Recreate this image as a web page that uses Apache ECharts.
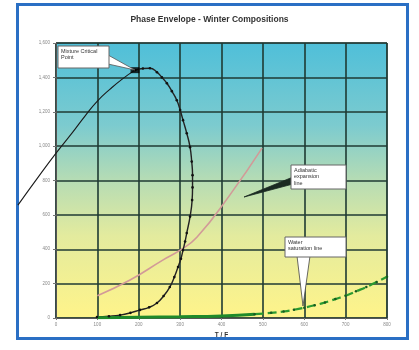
<!DOCTYPE html>
<html><head><meta charset="utf-8">
<script src="https://cdn.jsdelivr.net/npm/echarts@6/dist/echarts.min.js"></script>
<style>
html,body{margin:0;padding:0;background:#fff;}
#frame{position:absolute;left:16px;top:3px;width:393px;height:337px;border:3px solid #2a6fc4;box-sizing:border-box;}
#c{position:absolute;left:0;top:0;width:419px;height:350px;}
</style></head>
<body><div id="frame"></div><div id="c"></div>
<script>
var title = 'Phase Envelope - Winter Compositions';
var xName = 'T / F';
var xTicks = [0,100,200,300,400,500,600,700,800];
var yTicks = [0,200,400,600,800,1000,1200,1400,1600];
var bubbleLine = [[-92,657],[-40,830],[2,965],[40,1080],[70,1175],[100,1262],[130,1330],[160,1390],[191,1442]];
var dewLine = [[191,1442],[210,1452],[227,1453],[244,1430],[256,1400],[268,1366],[280,1320],[292,1267],[300,1210],[307,1151],[316,1075],[324,994],[328,910],[330,831],[330,760],[329,686],[324,590],[316,494],[312,445],[307,395],[302,345],[295,297],[286,238],[275,180],[260,128],[244,87],[225,62],[203,47],[180,30],[155,17],[128,10],[99,6]];
var critPoint = [[191,1442]];
var adiabatic = [[100,130],[179,221],[258,337],[300,395],[341,471],[420,715],[498,988]];
var waterSolid = [[100,2],[200,4],[300,7],[400,12],[480,22]];
var waterDashed = [[480,22],[520,30],[550,38],[575,48],[600,60],[625,74],[650,90],[675,110],[700,130],[725,155],[750,180],[775,210],[800,240]];
var labelCrit = ['Mixture Critical','Point'];
var labelAdiab = ['Adiabatic','expansion','line'];
var labelWater = ['Water','saturation line'];

var chart = echarts.init(document.getElementById('c'));
function box(x,y,w,h,lines){
  return [{type:'rect',shape:{x:x,y:y,width:w,height:h},style:{fill:'#fff',stroke:'#666',lineWidth:1},z:100},
   {type:'text',x:x+3,y:y+2,style:{text:lines.join('\n'),font:'5.5px sans-serif',fill:'#333',lineHeight:6.5},z:101}];
}
var unit = (419-32-56)/800*100;
var opt = {
  animation:false,
  title:{text:title,left:'center',top:10,textStyle:{fontSize:8.5,fontWeight:'bold',color:'#333',fontFamily:'Arial'}},
  grid:[{left:56,right:32,top:43,bottom:32,show:true,backgroundColor:{type:'linear',x:0,y:0,x2:0,y2:1,colorStops:[
    {offset:0,color:'#4fbfd9'},{offset:0.3,color:'#7ccbcf'},{offset:0.5,color:'#b6dcb4'},{offset:0.7,color:'#e3eb9e'},{offset:1,color:'#fff48a'}]},borderColor:'#333',borderWidth:1},
    {left:56-unit,right:32,top:43,bottom:32}],
  xAxis:[{type:'value',min:0,max:800,interval:100,name:xName,nameLocation:'middle',nameGap:10,
    nameTextStyle:{fontSize:6.5,fontWeight:'bold',color:'#333'},
    axisLine:{lineStyle:{color:'#555'}},axisTick:{show:true,length:2,lineStyle:{color:'#777'}},
    axisLabel:{fontSize:4.5,color:'#888',margin:4},
    splitLine:{lineStyle:{color:'#1f3a33',width:1.6}}},
    {type:'value',gridIndex:1,min:-100,max:800,show:false}],
  yAxis:[{type:'value',min:0,max:1600,interval:200,
    axisLine:{show:true,lineStyle:{color:'#555'}},axisTick:{show:true,length:3,lineStyle:{color:'#777'}},
    axisLabel:{fontSize:4.5,color:'#888',margin:6},
    splitLine:{lineStyle:{color:'#1f3a33',width:1.6}}},
    {type:'value',gridIndex:1,min:0,max:1600,show:false}],
  series:[
    {type:'line',data:adiabatic,smooth:true,showSymbol:false,clip:false,lineStyle:{color:'#d29a98',width:1.6}},
    {type:'line',xAxisIndex:1,yAxisIndex:1,data:bubbleLine,smooth:true,showSymbol:false,clip:false,lineStyle:{color:'#1a1a1a',width:1.1}},
    {type:'line',data:dewLine,smooth:true,symbol:'circle',symbolSize:2.6,clip:false,itemStyle:{color:'#111'},lineStyle:{color:'#222',width:1.4}},
    {type:'line',data:waterSolid,smooth:true,showSymbol:false,lineStyle:{color:'#1f8a2a',width:3}},
    {type:'line',data:waterDashed,smooth:true,symbol:'circle',symbolSize:2.5,itemStyle:{color:'#175a1f'},lineStyle:{color:'#2a9a30',width:2.2,type:'dashed'}},
    {type:'scatter',data:critPoint,symbol:'rect',symbolSize:[9,6],itemStyle:{color:'#000'},z:5}
  ],
  graphic:[].concat(
    [{type:'polygon',shape:{points:[[108,55],[108,64],[135,70]]},style:{fill:'#fff',stroke:'#555',lineWidth:0.8},z:99}],
    box(58,46,51,22,labelCrit),
    [{type:'polygon',shape:{points:[[293,177],[293,184],[244,197]]},style:{fill:'#1a2a22',stroke:'#1a2a22',lineWidth:0.8},z:99}],
    box(291,165,55,24,labelAdiab),
    [{type:'polygon',shape:{points:[[297,256],[310,256],[303,306]]},style:{fill:'#fff',stroke:'#444',lineWidth:0.8},z:99}],
    box(285,237,61,20,labelWater)
  )
};
chart.setOption(opt);
</script></body></html>
